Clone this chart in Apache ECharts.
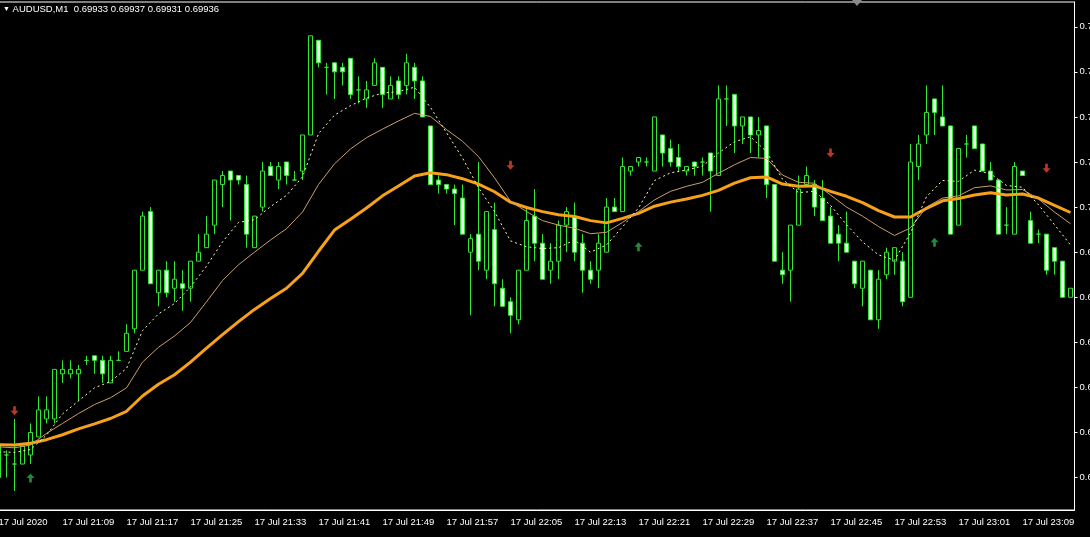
<!DOCTYPE html>
<html>
<head>
<meta charset="utf-8">
<title>AUDUSD,M1</title>
<script src="https://cdn.jsdelivr.net/npm/echarts@6/dist/echarts.min.js"></script>
<style>
  html, body { margin: 0; padding: 0; background: #000; }
  #chart { width: 1090px; height: 537px; }
</style>
</head>
<body>
<div id="chart"></div>
<script>
// AUDUSD M1, bars from 17 Jul 2020 21:01
const firstBar = 21 * 60 + 1
const barCount = 135
const times = []
for (let i = 0; i < barCount; i++) {
  const m = firstBar + i
  times.push(String(Math.floor(m / 60)).padStart(2, '0') + ':' + String(m % 60).padStart(2, '0'))
}

const open = [
  0.69947, 0.69945, 0.69943, 0.69943, 0.69945, 0.69949, 0.69953, 0.69953, 0.69963, 0.69963,
  0.69963, 0.69966, 0.69967, 0.69966, 0.69961, 0.69966, 0.69968, 0.69973, 0.69986, 0.69999,
  0.69981, 0.69986, 0.69982, 0.69983, 0.69982, 0.69988, 0.69991, 0.69996, 0.70005, 0.70008,
  0.70007, 0.70005, 0.69991, 0.70000, 0.70009, 0.70006, 0.70010, 0.70006, 0.70008, 0.70016,
  0.70037, 0.70031, 0.70032, 0.70031, 0.70033, 0.70026, 0.70024, 0.70027, 0.70031, 0.70024,
  0.70028, 0.70027, 0.70031, 0.70028, 0.70018, 0.70006, 0.70005, 0.70004, 0.70002, 0.69990,
  0.69994, 0.69986, 0.69995, 0.69982, 0.69979, 0.69975, 0.69986, 0.69998, 0.69992, 0.69986,
  0.69988, 0.69996, 0.69998, 0.69992, 0.69986, 0.69986, 0.69990, 0.70000, 0.69999, 0.70008,
  0.70010, 0.70010, 0.70008, 0.70016, 0.70013, 0.70011, 0.70008, 0.70010, 0.70010, 0.70012,
  0.70007, 0.70024, 0.70025, 0.70018, 0.70020, 0.70016, 0.70018, 0.70005, 0.69986, 0.69986,
  0.69996, 0.70005, 0.70005, 0.70002, 0.69998, 0.69994, 0.69992, 0.69988, 0.69982, 0.69986,
  0.69975, 0.69985, 0.69988, 0.69988, 0.69980, 0.70009, 0.70016, 0.70024, 0.70020, 0.70018,
  0.69996, 0.70014, 0.70018, 0.70014, 0.70008, 0.70006, 0.69996, 0.69994, 0.70008, 0.69997,
  0.69994, 0.69994, 0.69991, 0.69988, 0.69980
]
const high = [
  0.69948, 0.69946, 0.69953, 0.69947, 0.69952, 0.69958, 0.69958, 0.69964, 0.69966, 0.69966,
  0.69965, 0.69967, 0.69967, 0.69967, 0.69967, 0.69968, 0.69974, 0.69986, 0.69999, 0.70000,
  0.69986, 0.69988, 0.69988, 0.69986, 0.69988, 0.69994, 0.69998, 0.70006, 0.70008, 0.70008,
  0.70007, 0.70007, 0.69998, 0.70010, 0.70010, 0.70010, 0.70010, 0.70008, 0.70016, 0.70038,
  0.70037, 0.70032, 0.70032, 0.70032, 0.70033, 0.70029, 0.70028, 0.70033, 0.70031, 0.70029,
  0.70029, 0.70034, 0.70032, 0.70029, 0.70018, 0.70007, 0.70005, 0.70005, 0.70005, 0.69994,
  0.70010, 0.69999, 0.70001, 0.69984, 0.69980, 0.69986, 0.70000, 0.70004, 0.69994, 0.69992,
  0.69997, 0.70000, 0.70001, 0.69994, 0.69988, 0.69994, 0.70002, 0.70002, 0.70011, 0.70009,
  0.70011, 0.70011, 0.70020, 0.70016, 0.70015, 0.70014, 0.70009, 0.70010, 0.70011, 0.70012,
  0.70027, 0.70027, 0.70025, 0.70020, 0.70020, 0.70020, 0.70018, 0.70005, 0.69990, 0.69996,
  0.70007, 0.70009, 0.70006, 0.70006, 0.70000, 0.69996, 0.69999, 0.69988, 0.69988, 0.69986,
  0.69986, 0.69991, 0.69991, 0.69990, 0.70014, 0.70016, 0.70027, 0.70024, 0.70027, 0.70018,
  0.70013, 0.70016, 0.70018, 0.70014, 0.70010, 0.70006, 0.70000, 0.70010, 0.70008, 0.69999,
  0.69995, 0.69994, 0.69991, 0.69988, 0.69982
]
const low = [
  0.69939, 0.69940, 0.69937, 0.69943, 0.69943, 0.69949, 0.69952, 0.69952, 0.69961, 0.69962,
  0.69957, 0.69965, 0.69963, 0.69961, 0.69961, 0.69966, 0.69968, 0.69972, 0.69986, 0.69983,
  0.69978, 0.69980, 0.69979, 0.69977, 0.69979, 0.69988, 0.69991, 0.69994, 0.70000, 0.69997,
  0.70005, 0.69991, 0.69991, 0.69999, 0.70007, 0.70004, 0.70005, 0.70006, 0.70006, 0.70016,
  0.70031, 0.70025, 0.70024, 0.70027, 0.70024, 0.70023, 0.70022, 0.70027, 0.70022, 0.70024,
  0.70024, 0.70025, 0.70024, 0.70020, 0.70005, 0.70003, 0.70003, 0.69996, 0.69994, 0.69976,
  0.69986, 0.69984, 0.69978, 0.69978, 0.69972, 0.69974, 0.69986, 0.69988, 0.69984, 0.69983,
  0.69984, 0.69990, 0.69988, 0.69981, 0.69983, 0.69982, 0.69990, 0.69999, 0.69999, 0.70007,
  0.70009, 0.70009, 0.70008, 0.70009, 0.70009, 0.70008, 0.70007, 0.70007, 0.70007, 0.69999,
  0.70007, 0.70018, 0.70012, 0.70014, 0.70012, 0.70011, 0.70002, 0.69988, 0.69983, 0.69979,
  0.69996, 0.70005, 0.69998, 0.69997, 0.69992, 0.69988, 0.69990, 0.69982, 0.69978, 0.69975,
  0.69973, 0.69984, 0.69985, 0.69978, 0.69980, 0.70006, 0.70014, 0.70016, 0.70018, 0.69994,
  0.69996, 0.70011, 0.70013, 0.70008, 0.70006, 0.69994, 0.69994, 0.69994, 0.70007, 0.69992,
  0.69992, 0.69985, 0.69985, 0.69980, 0.69980
]
const close = [
  0.69940, 0.69945, 0.69943, 0.69947, 0.69950, 0.69955, 0.69955, 0.69964, 0.69964, 0.69964,
  0.69964, 0.69966, 0.69966, 0.69963, 0.69966, 0.69966, 0.69972, 0.69986, 0.69998, 0.69983,
  0.69986, 0.69981, 0.69984, 0.69982, 0.69988, 0.69990, 0.69994, 0.70006, 0.70007, 0.70006,
  0.70006, 0.69994, 0.69998, 0.70008, 0.70007, 0.70009, 0.70007, 0.70006, 0.70016, 0.70038,
  0.70032, 0.70031, 0.70030, 0.70030, 0.70025, 0.70026, 0.70026, 0.70032, 0.70025, 0.70027,
  0.70025, 0.70032, 0.70028, 0.70020, 0.70005, 0.70005, 0.70004, 0.70003, 0.69994, 0.69993,
  0.69988, 0.69999, 0.69983, 0.69978, 0.69976, 0.69986, 0.69997, 0.69992, 0.69984, 0.69988,
  0.69996, 0.69999, 0.69990, 0.69986, 0.69984, 0.69992, 0.70000, 0.69999, 0.70009, 0.70009,
  0.70011, 0.70010, 0.70020, 0.70012, 0.70010, 0.70009, 0.70009, 0.70009, 0.70010, 0.70008,
  0.70024, 0.70024, 0.70018, 0.70020, 0.70016, 0.70017, 0.70005, 0.69988, 0.69985, 0.69996,
  0.70004, 0.70007, 0.70000, 0.69997, 0.69992, 0.69992, 0.69990, 0.69983, 0.69988, 0.69975,
  0.69984, 0.69990, 0.69991, 0.69979, 0.70010, 0.70014, 0.70021, 0.70021, 0.70018, 0.69994,
  0.70013, 0.70014, 0.70013, 0.70008, 0.70006, 0.69994, 0.69996, 0.70009, 0.70007, 0.69992,
  0.69994, 0.69986, 0.69988, 0.69980, 0.69982
]

const maSlow = [
  0.699473, 0.699472, 0.699476, 0.699484, 0.699495, 0.699508, 0.699519, 0.699531, 0.699547, 0.699581,
  0.699607, 0.699628, 0.699656, 0.699687, 0.699717, 0.699746, 0.699773, 0.699797, 0.699820, 0.699853,
  0.699902, 0.699949, 0.699973, 0.699998, 0.700025, 0.700047, 0.700069, 0.700076, 0.700072, 0.700063,
  0.700051, 0.700034, 0.700011, 0.699999, 0.699990, 0.699983, 0.699979, 0.699970, 0.699965, 0.699975,
  0.699986, 0.700002, 0.700011, 0.700018, 0.700026, 0.700037, 0.700053, 0.700065, 0.700067, 0.700051,
  0.700046, 0.700047, 0.700035, 0.700024, 0.700010, 0.699992, 0.699978, 0.699978, 0.699997, 0.700014,
  0.700019, 0.700027, 0.700032, 0.700027, 0.700029, 0.700020, 0.700004, 0.699988
]
const maMid = [
  0.699468, 0.699466, 0.699472, 0.699498, 0.699520, 0.699542, 0.699562, 0.699577, 0.699599, 0.699656,
  0.699689, 0.699714, 0.699744, 0.699790, 0.699837, 0.699872, 0.699900, 0.699927, 0.699952, 0.699989,
  0.700050, 0.700096, 0.700129, 0.700154, 0.700173, 0.700191, 0.700208, 0.700201, 0.700172, 0.700146,
  0.700112, 0.700065, 0.700013, 0.699990, 0.699970, 0.699960, 0.699953, 0.699941, 0.699944, 0.699966,
  0.699990, 0.700016, 0.700035, 0.700046, 0.700055, 0.700075, 0.700094, 0.700110, 0.700108, 0.700071,
  0.700055, 0.700053, 0.700027, 0.700000, 0.699980, 0.699957, 0.699937, 0.699954, 0.700000, 0.700020,
  0.700025, 0.700043, 0.700047, 0.700038, 0.700039, 0.700018, 0.699989, 0.699963
]
const maFast = [
  0.699457, 0.699456, 0.699462, 0.699494, 0.699541, 0.699570, 0.699599, 0.699613, 0.699642, 0.699726,
  0.699763, 0.699786, 0.699823, 0.699869, 0.699923, 0.699966, 0.699972, 0.700001, 0.700026, 0.700067,
  0.700163, 0.700204, 0.700225, 0.700242, 0.700253, 0.700256, 0.700266, 0.700221, 0.700165, 0.700109,
  0.700043, 0.699990, 0.699925, 0.699912, 0.699908, 0.699910, 0.699927, 0.699900, 0.699916, 0.699956,
  0.699998, 0.700059, 0.700076, 0.700082, 0.700091, 0.700120, 0.700145, 0.700156, 0.700123, 0.700062,
  0.700032, 0.700035, 0.700004, 0.699961, 0.699923, 0.699894, 0.699882, 0.699943, 0.700023, 0.700059,
  0.700057, 0.700082, 0.700074, 0.700048, 0.700044, 0.700005, 0.699961, 0.699916
]

// signal arrows: bar index and price level
const sellBars = [2, 64, 104, 131]
const sellLevels = [0.699548, 0.700093, 0.700120, 0.700086]
const buyBars = [4, 80, 117]
const buyLevels = [0.699399, 0.699912, 0.699922]

const priceTicks = [0.6994, 0.6995, 0.6996, 0.6997, 0.6998, 0.6999, 0.7000, 0.7001, 0.7002, 0.7003, 0.7004]
const header = 'AUDUSD,M1  0.69933 0.69937 0.69931 0.69936'

const font = 'Liberation Sans, Arial, sans-serif'
const barColor = '#33e633'
const everyEighth = (index) => index % 8 === 0

const chart = echarts.init(document.getElementById('chart'))
const option = {
  backgroundColor: '#000',
  animation: false,
  title: {
    text: '{t|▼} ' + header,
    left: 3,
    top: 4,
    padding: 0,
    textStyle: {
      color: '#fff',
      fontSize: 9.5,
      fontWeight: 'normal',
      fontFamily: font,
      rich: {
        t: { fontSize: 7, color: '#fff' }
      }
    }
  },
  grid: {
    left: -5.5,
    right: 15.5,
    top: 2,
    bottom: 27,
    containLabel: false,
    outerBoundsMode: 'none',
    show: true,
    borderColor: '#fff',
    borderWidth: 1,
    backgroundColor: 'transparent'
  },
  xAxis: {
    type: 'category',
    data: times,
    boundaryGap: true,
    axisLine: { lineStyle: { color: '#fff', width: 1 } },
    axisTick: {
      alignWithLabel: true,
      interval: everyEighth,
      length: 4,
      lineStyle: { color: '#fff' }
    },
    axisLabel: {
      interval: everyEighth,
      align: 'left',
      margin: 7,
      color: '#fff',
      fontSize: 9.5,
      fontFamily: font,
      hideOverlap: false,
      formatter: (value, index) => index === 0 ? '17 Jul 2020' : '17 Jul ' + value
    },
    splitLine: { show: false }
  },
  yAxis: {
    type: 'value',
    position: 'right',
    min: 0.699328,
    max: 0.700455,
    axisLine: { show: true, lineStyle: { color: '#fff', width: 1 } },
    axisTick: {
      show: true,
      length: 3,
      customValues: priceTicks,
      lineStyle: { color: '#fff' }
    },
    axisLabel: {
      customValues: priceTicks,
      margin: 5,
      color: '#fff',
      fontSize: 9.5,
      fontFamily: font,
      formatter: (v) => v.toFixed(5)
    },
    splitLine: { show: false }
  },
  graphic: [
    {
      type: 'polygon',
      shape: { points: [[852, 0], [862, 0], [857, 6]] },
      style: { fill: '#8a8a8a' },
      z: 100
    }
  ],
  series: [
    {
      type: 'candlestick',
      data: open.map((o, i) => [o, close[i], low[i], high[i]]),
      barWidth: 4,
      itemStyle: {
        color: '#000',
        color0: '#f4fff4',
        borderColor: barColor,
        borderColor0: barColor,
        borderColorDoji: barColor,
        borderWidth: 1
      },
      z: 2
    },
    {
      type: 'line',
      data: maSlow.map((v, i) => [i * 2, v]),
      symbol: 'none',
      lineStyle: { color: '#f7a11a', width: 3 },
      z: 3
    },
    {
      type: 'line',
      data: maMid.map((v, i) => [i * 2, v]),
      symbol: 'none',
      lineStyle: { color: '#c89f6a', width: 1 },
      z: 4
    },
    {
      type: 'line',
      data: maFast.map((v, i) => [i * 2, v]),
      symbol: 'none',
      lineStyle: { color: '#fffbb0', width: 1, type: [2, 3] },
      z: 5
    },
    {
      type: 'scatter',
      data: sellBars.map((b, i) => [b, sellLevels[i]]),
      symbol: 'path://M3,0L6,0L6,5L9,5L4.5,10L0,5L3,5Z',
      symbolSize: [8, 9],
      itemStyle: { color: '#e8462a' },
      z: 6
    },
    {
      type: 'scatter',
      data: buyBars.map((b, i) => [b, buyLevels[i]]),
      symbol: 'path://M4.5,0L9,5L6,5L6,10L3,10L3,5L0,5Z',
      symbolSize: [8, 9],
      itemStyle: { color: '#2eaa4a' },
      z: 6
    }
  ]
}
chart.setOption(option)
</script>
</body>
</html>
